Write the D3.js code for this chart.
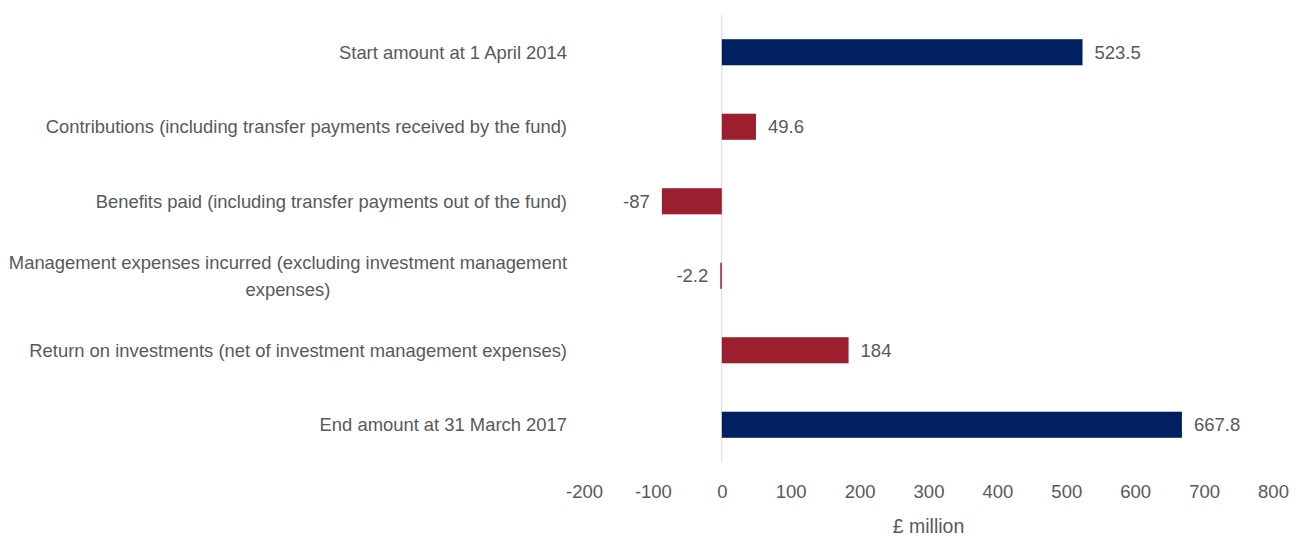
<!DOCTYPE html>
<html>
<head>
<meta charset="utf-8">
<script src="https://d3js.org/d3.v7.min.js"></script>
<style>
  body { margin: 0; background: #fff; }
  text { font-family: "Liberation Sans Narrow", "Liberation Sans", Arial, sans-serif; fill: #595959; }
</style>
</head>
<body>
<div id="chart"></div>
<script>
var categories = [
  ["Start amount at 1 April 2014"],
  ["Contributions (including transfer payments received by the fund)"],
  ["Benefits paid (including transfer payments out of the fund)"],
  ["Management expenses incurred (excluding investment management", "expenses)"],
  ["Return on investments (net of investment management expenses)"],
  ["End amount at 31 March 2017"]
];
var values = [523.5, 49.6, -87, -2.2, 184, 667.8];
var labels = ["523.5", "49.6", "-87", "-2.2", "184", "667.8"];
var isTotal = [true, false, false, false, false, true];
var xTicks = [-200, -100, 0, 100, 200, 300, 400, 500, 600, 700, 800];

function drawChart() {
  var w = 1304, h = 536;
  var svg = d3.select("#chart").append("svg")
      .attr("width", w).attr("height", h);

  var x = d3.scaleLinear().domain([-200, 800]).range([584, 1273]);
  var y = d3.scaleBand().domain(d3.range(values.length))
      .range([15, 462]).paddingInner(0.65).paddingOuter(0.325);

  // zero line
  svg.append("line")
      .attr("x1", x(0)).attr("x2", x(0))
      .attr("y1", 15).attr("y2", 462)
      .attr("stroke", "#d9d9d9").attr("stroke-width", 1);

  // bars
  svg.selectAll("rect.bar")
      .data(values)
      .enter().append("rect")
      .attr("class", "bar")
      .attr("x", function(d) { return x(Math.min(0, d)); })
      .attr("y", function(d, i) { return y(i); })
      .attr("width", function(d) { return Math.abs(x(d) - x(0)); })
      .attr("height", y.bandwidth())
      .attr("fill", function(d, i) { return isTotal[i] ? "#002060" : "#9b1f2e"; });

  // value labels
  svg.selectAll("text.val")
      .data(values)
      .enter().append("text")
      .attr("class", "val")
      .attr("x", function(d) { return d < 0 ? x(d) - 12 : x(d) + 12; })
      .attr("y", function(d, i) { return y(i) + y.bandwidth() / 2; })
      .attr("dy", "0.35em")
      .attr("text-anchor", function(d) { return d < 0 ? "end" : "start"; })
      .style("font-size", "18.5px")
      .text(function(d, i) { return labels[i]; });

  // category labels
  categories.forEach(function(lines, i) {
    var cy = y(i) + y.bandwidth() / 2;
    var lh = 27;
    var t = svg.append("text")
        .style("font-size", "18.4px");
    if (lines.length === 1) {
      t.attr("x", 567).attr("y", cy).attr("dy", "0.35em")
        .attr("text-anchor", "end").text(lines[0]);
    } else {
      var tmp = t.append("tspan").text(lines[0]);
      var lw = tmp.node().getComputedTextLength();
      tmp.remove();
      var cx = 567 - lw / 2;
      t.attr("text-anchor", "middle");
      lines.forEach(function(l, j) {
        t.append("tspan")
          .attr("x", cx)
          .attr("y", cy + (j - (lines.length - 1) / 2) * lh)
          .attr("dy", "0.35em")
          .text(l);
      });
    }
  });

  // x axis
  var xAxis = d3.axisBottom(x).tickValues(xTicks).tickSize(0).tickPadding(0)
      .tickFormat(function(d) { return String(d); });
  var g = svg.append("g")
      .attr("transform", "translate(0,492)")
      .call(xAxis);
  g.select(".domain").remove();
  g.selectAll("text")
      .style("font-size", "18.5px")
      .style("font-family", "'Liberation Sans Narrow', 'Liberation Sans', Arial, sans-serif")
      .attr("fill", "#595959")
      .attr("y", 0)
      .attr("dy", "0.35em");

  svg.append("text")
      .attr("x", x(300))
      .attr("y", 526)
      .attr("dy", "0.35em")
      .attr("text-anchor", "middle")
      .style("font-size", "19.5px")
      .text("£ million");
}

window.onload = drawChart;
</script>
</body>
</html>
